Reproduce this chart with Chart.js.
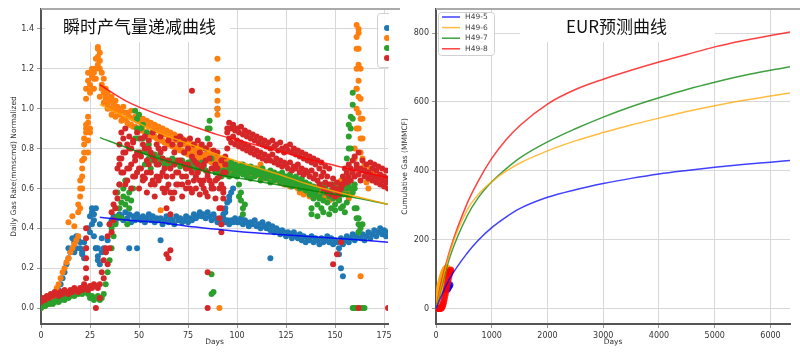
<!DOCTYPE html>
<html>
<head>
<meta charset="utf-8">
<script src="https://cdn.jsdelivr.net/npm/chart.js@4.4.0/dist/chart.umd.min.js"></script>
<style>
  body { margin: 0; background: #fff; }
  .panel { position: absolute; top: 0; width: 400px; height: 353px; }
  #left { left: 0; }
  #right { left: 400px; }
</style>
</head>
<body>
<div class="panel" id="left"><canvas id="rateChart" width="400" height="353"></canvas></div>
<div class="panel" id="right"><canvas id="eurChart" width="400" height="353"></canvas></div>
<script>
// wells and colours
const wellNames = ['H49-5', 'H49-6', 'H49-7', 'H49-8'];
const dotColors = ['#1f77b4', '#ff7f0e', '#2ca02c', '#d62728'];
const fitColors = ['rgba(0,0,255,0.85)', 'rgba(255,165,0,0.85)', 'rgba(0,128,0,0.8)', 'rgba(255,0,0,0.8)'];
const eurColors = ['rgba(0,0,255,0.75)', 'rgba(255,165,0,0.75)', 'rgba(0,128,0,0.75)', 'rgba(255,0,0,0.75)'];

// daily normalized rate, index = day
const blueRate = [0.01,0.02,0.01,0.02,0.02,0.03,0.03,0.04,
  0.06,0.09,0.12,0.15,0.18,0.22,0.25,
  0.28,0.3,0.33,0.36,0.34,0.3,0.27,0.25,
  0.3,0.4,0.46,0.48,0.44,0.3,0.26,0.42,
  0.35,0.3,0.28,0.34,0.42,0.44,0.46,0.43,0.45,0.47,
  0.46,0.44,0.48,0.45,0.47,0.43,0.46,0.44,0.47,0.45,0.44,0.46,0.43,0.45,0.47,0.44,0.46,0.43,0.45,0.44,
  0.45,0.42,0.44,0.46,0.43,0.45,0.44,0.42,0.46,0.44,0.45,0.43,0.44,0.46,0.43,0.45,0.44,0.47,0.45,0.46,
  0.48,0.46,0.47,0.45,0.48,0.46,0.44,0.47,0.45,0.43,
  0.44,0.42,0.45,0.43,0.44,0.42,0.44,0.43,0.45,0.43,
  0.43,0.45,0.42,0.44,0.43,0.41,0.43,0.42,0.44,0.41,0.42,0.4,0.43,0.41,0.4,0.42,0.39,0.41,0.38,0.4,
  0.39,0.37,0.39,0.38,0.36,0.38,0.37,0.35,0.38,0.36,
  0.35,0.37,0.34,0.36,0.33,0.35,0.34,0.36,0.33,0.35,0.34,0.32,0.35,0.33,0.34,0.36,0.33,0.35,0.32,0.34,
  0.33,0.3,0.35,0.32,0.34,0.36,0.33,0.35,0.37,0.34,0.36,0.38,0.35,0.37,0.34,0.36,0.38,0.35,0.37,0.39,
  0.36,0.38,0.4,0.37,0.39,0.36,0.38];
const orangeRate = [0.0,0.01,0.01,0.02,0.02,0.03,0.05,0.07,
  0.1,0.12,0.15,0.18,0.2,0.23,0.25,0.28,0.3,0.32,0.34,0.36,
  0.5,0.6,0.75,0.9,0.93,0.88,1.1,1.15,1.25,1.3,
  1.2,1.1,1.08,1.05,1.02,1.04,1.0,1.03,0.99,1.01,
  1.0,0.94,1.01,0.95,0.98,0.92,0.99,0.91,0.96,0.9,
  0.97,0.89,0.95,0.88,0.94,0.87,0.93,0.86,0.92,0.85,
  0.91,0.84,0.9,0.83,0.89,0.82,0.88,0.81,0.87,0.8,
  0.86,0.79,0.85,0.78,0.84,0.77,0.83,0.76,0.82,0.76,
  0.81,0.75,0.8,0.74,0.8,0.74,0.79,0.73,0.78,0.74,
  0.76,0.74,0.73,0.75,0.72,0.74,0.71,0.73,0.7,0.72,
  0.71,0.69,0.72,0.7,0.68,0.71,0.69,0.67,0.7,0.68,
  0.67,0.69,0.66,0.68,0.65,0.67,0.66,0.64,0.67,0.65,
  0.64,0.66,0.63,0.65,0.62,0.64,0.63,0.61,0.64,0.62,
  0.61,0.6,0.58,0.6,0.57,0.59,0.58,0.56,0.59,0.57,
  0.58,0.56,0.59,0.57,0.55,0.58,0.56,0.54,0.57,0.55,
  0.56,0.6,0.62,0.64,0.6,0.62,0.58,0.55,0.57,0.6,
  0.8,1.1,1.4,1.2,0.95,0.72,0.68,0.65,0.7,0.66,
  0.68,0.65,0.67];
// second orange reading per day, from day 33
const orangeRate2Start = 33;
const orangeRate2 = [1.06,1.0,1.05,0.97,1.02,0.96,1.0,
  0.97,0.99,0.95,0.98,0.93,0.96,0.92,0.95,0.91,0.94,
  0.9,0.93,0.89,0.92,0.88,0.91,0.87,0.9,0.86,0.89,
  0.85,0.88,0.84,0.87,0.83,0.86,0.82,0.85,0.81,0.84,
  0.8,0.83,0.79,0.82,0.78,0.81,0.78,0.8,0.77,0.79,
  0.76,0.78,0.75,0.77,0.75,0.77,0.74,0.76,0.73,0.76,
  0.72,0.75,0.71,0.74,0.7,0.73,0.69,0.72,0.68,0.71];
const greenRate = [0.0,0.01,0.01,0.02,0.02,0.03,0.02,0.03,0.04,0.03,
  0.04,0.05,0.04,0.06,0.05,0.06,0.07,0.06,0.08,0.07,
  0.08,0.07,0.09,0.08,0.07,0.05,0.06,0.04,0.05,0.06,
  0.04,0.05,0.07,0.12,0.18,0.24,0.3,0.36,0.42,0.46,
  0.5,0.53,0.56,0.52,0.55,0.58,0.54,0.6,0.85,0.95,
  0.97,0.9,0.85,0.8,0.78,0.75,0.76,0.74,0.77,0.75,
  0.76,0.73,0.75,0.72,0.74,0.71,0.73,0.75,0.72,0.74,
  0.73,0.71,0.74,0.72,0.7,0.73,0.71,0.74,0.72,0.7,
  0.72,0.7,0.73,0.71,0.69,0.85,0.9,0.75,0.7,0.68,
  0.7,0.68,0.66,0.69,0.67,0.68,0.66,0.7,0.67,0.69,
  0.66,0.68,0.7,0.67,0.69,0.66,0.68,0.65,0.68,0.66,
  0.67,0.69,0.64,0.66,0.68,0.65,0.67,0.63,0.66,0.64,
  0.65,0.67,0.63,0.66,0.64,0.62,0.65,0.63,0.61,0.64,
  0.62,0.64,0.6,0.63,0.61,0.59,0.62,0.57,0.6,0.55,
  0.58,0.52,0.56,0.5,0.54,0.58,0.53,0.56,0.5,0.55,
  0.52,0.58,0.55,0.5,0.57,0.48,0.53,0.6,0.8,0.95,
  0.6,0.5,0.45,0.4,0.42];
// second green reading per day, from day 95
const greenRate2Start = 95;
const greenRate2 = [0.72,0.7,0.73,0.71,0.72,0.7,0.71,0.69,0.72,0.7,
  0.7,0.68,0.71,0.69,0.7,0.68,0.69,0.67,0.7,0.68,
  0.68,0.66,0.69,0.67,0.68,0.66,0.67,0.65,0.68,0.66,
  0.66,0.64,0.67,0.65,0.63,0.66,0.64,0.62,0.65,0.6,
  0.63,0.6,0.62,0.58,0.61,0.57,0.6,0.55,0.62,0.58,
  0.6,0.62,0.57,0.59,0.62,0.56,0.6,0.54,0.58,0.62,
  0.6,0.57,0.62,0.6,0.58,0.62];
const redRate = [0.03,0.05,0.04,0.06,0.05,0.07,0.06,0.08,0.07,0.06,
  0.08,0.07,0.09,0.08,0.07,0.09,0.08,0.1,0.09,0.08,
  0.1,0.09,0.11,0.1,0.09,0.11,0.1,0.12,0.11,0.1,
  0.12,0.18,0.24,0.3,0.36,0.42,0.48,0.52,0.58,0.55,
  0.82,0.75,0.85,0.78,0.7,0.8,0.72,0.83,0.76,0.68,
  0.78,0.7,0.82,0.65,0.74,0.8,0.68,0.76,0.62,0.72,
  0.8,0.66,0.75,0.58,0.5,0.62,0.7,0.55,0.78,0.68,
  0.74,0.82,0.66,0.72,0.6,0.8,0.7,0.76,0.64,0.73,
  0.68,0.78,0.62,0.72,0.58,0.66,0.75,0.6,0.7,0.55,
  0.65,0.5,0.42,0.6,0.68,0.88,0.93,0.9,0.92,0.89,
  0.9,0.88,0.91,0.87,0.89,0.86,0.88,0.85,0.87,0.84,
  0.86,0.83,0.85,0.82,0.84,0.81,0.83,0.8,0.84,0.81,
  0.82,0.79,0.83,0.8,0.78,0.81,0.79,0.82,0.78,0.8,
  0.77,0.79,0.76,0.78,0.75,0.77,0.74,0.76,0.73,0.75,
  0.72,0.74,0.7,0.73,0.68,0.71,0.66,0.7,0.62,0.65,
  0.6,0.63,0.58,0.62,0.66,0.7,0.68,0.72,0.7,0.74,
  0.76,0.72,0.78,0.7,0.74,0.69,0.72,0.68,0.73,0.7,
  0.72,0.69,0.71,0.67,0.7,0.66,0.69,0.65];
// second and third red readings per day, from day 40
const redRate2Start = 40;
const redRate2 = [0.62,0.88,0.68,0.9,0.64,0.86,0.6,0.84,0.66,0.88,
  0.6,0.85,0.64,0.86,0.58,0.84,0.62,0.88,0.56,0.82,
  0.64,0.86,0.6,0.8,0.66,0.84,0.47,0.82,0.58,0.85,
  0.62,0.86,0.56,0.84,0.7,0.63,0.85,0.58,0.82,0.6,
  0.84,0.57,0.82,0.64,0.8,0.56,0.82,0.62,0.79,0.64,
  0.78,0.6,0.74,0.58,0.76,0.8,
  0.85,0.83,0.86,0.82,0.84,0.81,0.83,0.8,0.82,0.79,
  0.81,0.78,0.8,0.77,0.79,0.76,0.78,0.75,0.77,0.74,
  0.76,0.74,0.77,0.73,0.75,0.72,0.74,0.71,0.73,0.72,
  0.7,0.73,0.69,0.71,0.7,0.72,0.68,0.7,0.67,0.69,
  0.68,0.66,0.69,0.65,0.67,0.64,0.62,0.66,0.6,0.63,
  0.58,0.62,0.57,0.6,0.56,0.59,0.57,0.6,0.62,0.64,
  0.63,0.66,0.64,0.68,0.66,0.7,0.67,0.64,0.69,0.66,
  0.68,0.65,0.67,0.64,0.66,0.63,0.65,0.62,0.64,0.61,0.63,0.6];
const redRate3 = [0.72,0.68,0.78,0.62,0.82,0.7,0.8,0.66,0.74,0.78,
  0.7,0.76,0.66,0.8,0.68,0.72,0.78,0.64,0.74,0.66,
  0.72,0.78,0.68,0.7,0.6,0.74,0.58,0.66,0.72,0.62,
  0.68,0.74,0.62,0.78,0.66,0.72,0.6,0.68,0.74,0.66,
  0.72,0.64,0.7,0.6,0.74,0.68,0.64,0.7,0.6,0.72,
  0.7,0.66,0.62,0.68,0.72,0.9];

// extra readings [day, rate]: spikes, drops and stray points
const blueExtra = [[14,0.3],[16,0.35],[17,0.28],[18,0.3],[20,0.33],[21,0.28],[22,0.33],
  [25,0.38],[26,0.42],[26,0.5],[27,0.36],[27,0.47],[28,0.5],[28,0.3],[29,0.24],[30,0.22],[29,0.3],[31,0.28],
  [45,0.3],[49,0.3],[61,0.34],[90,1.0],[117,0.25],[152,0.27],[153,0.2],[154,0.16],
  [93,0.47],[94,0.5],[95,0.53],[96,0.56],[97,0.58],[98,0.6],[94,0.48],[96,0.54]];
const orangeExtra = [[14,0.43],[16,0.46],[17,0.41],
  [19,0.48],[19,0.52],[20,0.56],[20,0.6],[20,0.64],[21,0.66],[21,0.7],[21,0.74],[22,0.78],[22,0.82],
  [22,0.85],[23,0.88],[23,0.92],[24,0.84],[24,0.96],[25,0.9],
  [23,1.05],[23,1.1],[24,1.14],[24,1.18],[25,1.08],[25,1.12],[26,1.16],[26,1.2],[27,1.1],[27,1.18],
  [28,1.15],[28,1.2],[29,1.22],[29,1.26],[29,1.31],[30,1.28],[30,1.24],[31,1.18],[31,1.12],[32,1.15],[33,1.1],
  [30,1.06],[32,1.03],[34,1.08],[36,1.06],[38,1.04],
  [24,0.78],[61,0.49],[110,0.7],[112,0.72],
  [90,0.97],[90,1.0],[90,1.04],[90,1.09],[90,1.15],[90,1.25],[91,0.0],
  [153,0.62],[155,0.65],[163,0.16],[161,0.0],[163,0.0],
  [160,0.75],[161,0.9],[161,1.0],[161,1.1],[161,1.2],[161,1.3],[161,1.36],[161,1.42],
  [162,1.38],[162,1.3],[162,1.22],[162,1.14],[162,1.06],[162,0.98],[162,0.9],
  [163,1.05],[163,0.95],[163,0.85],[163,0.78],[164,0.85],[164,0.75],[165,0.7],[166,0.63],[167,0.6]];
const greenExtra = [[36,0.4],[38,0.5],[39,0.58],[40,0.62],[41,0.45],[42,0.6],[43,0.64],[44,0.42],[45,0.5],
  [48,0.99],[49,0.95],[49,0.9],[50,0.85],[51,0.78],[52,0.92],[53,0.72],[54,0.88],[55,0.82],[56,0.7],
  [84,0.8],[85,0.9],[86,0.94],[87,0.17],[87,0.07],[88,0.08],
  [101,0.62],[101,0.56],[102,0.58],[102,0.54],[103,0.5],[103,0.47],[104,0.52],
  [138,0.5],[138,0.47],[141,0.46],[144,0.48],[147,0.47],[150,0.49],[154,0.51],
  [156,0.75],[157,0.8],[157,0.86],[158,0.9],[158,0.96],[159,1.02],[159,1.08],[157,0.92],
  [160,0.5],[161,0.45],[162,0.38],[162,0.42],
  [159,0.0],[160,0.0],[162,0.0],[164,0.0],[165,0.0]];
const redExtra = [[23,0.15],[23,0.2],[23,0.25],[23,0.3],[23,0.35],[23,0.4],[22,0.12],
  [28,0.0],[30,0.05],[32,0.15],[33,0.28],[34,0.22],[35,0.3],[36,0.38],[37,0.44],[38,0.5],
  [39,0.7],[40,0.75],
  [64,0.27],[65,0.25],[66,0.29],[77,1.09],[85,0.18],[85,0.0],
  [91,0.45],[92,0.38],[92,0.5],[93,0.55],
  [149,0.22],[151,0.27],[153,0.33],[162,0.0],[177,0.0]];

// decline fits
const fitDays = [30, 45, 60, 75, 90, 105, 120, 135, 150, 165, 177];
const blueFit = [0.455, 0.44, 0.43, 0.41, 0.395, 0.38, 0.37, 0.36, 0.35, 0.34, 0.33];
const orangeFit = [1.02, 0.95, 0.88, 0.825, 0.77, 0.72, 0.675, 0.625, 0.585, 0.55, 0.52];
const greenFit = [0.855, 0.8, 0.75, 0.71, 0.67, 0.645, 0.62, 0.595, 0.57, 0.545, 0.52];
const redFit = [1.12, 1.03, 0.97, 0.92, 0.87, 0.83, 0.79, 0.75, 0.715, 0.68, 0.655];

// EUR forecast
const eurDays = [0, 100, 250, 555, 750, 1000, 1250, 1500, 2000, 2500, 3000, 3500, 4000, 4500, 5000, 5500, 6000, 6350];
const eurBlue = [0, 38, 88, 160, 197, 235, 265, 290, 323, 345, 363, 378, 391, 401, 410, 418, 425, 430];
const eurOrange = [0, 70, 165, 285, 330, 368, 398, 422, 458, 487, 511, 533, 553, 572, 589, 604, 617, 626];
const eurGreen = [0, 62, 150, 268, 320, 368, 405, 437, 484, 522, 556, 586, 612, 636, 657, 676, 692, 702];
const eurRed = [0, 80, 170, 304, 368, 436, 489, 531, 594, 636, 666, 692, 716, 738, 760, 778, 793, 803];
// produced-to-date cumulative [day, gas]
const histOrange = [[0,0],[3,6],[6,14],[10,22],[15,28],[20,32],[30,38],[40,44],[50,50],[60,58],[70,65],[80,72],[90,78],
  [100,84],[110,90],[120,95],[130,100],[140,104],[150,108],[160,111],[170,114],[180,116],[190,117],[200,118]];
const histRed = [[30,0],[45,0],[60,0],[75,0],[90,1],[100,3],[110,6],[120,10],[130,15],[140,22],[150,30],[160,38],
  [170,46],[180,54],[190,62],[200,70],[210,78],[220,86],[230,93],[240,100],[250,106],[260,110],[265,112]];
const histBlue = [[200,55],[210,58],[220,61],[230,64],[240,67],[250,69]];

const daily = (arr, start = 0) => arr.map((v, i) => ({ x: i + start, y: v }));
const pairs = arr => arr.map(p => ({ x: p[0], y: p[1] }));
const zip = (xs, ys) => xs.map((x, i) => ({ x: x, y: ys[i] }));

const tickFont = { family: 'DejaVu Sans', size: 8 };
const titleFont = { family: 'DejaVu Sans', size: 7.5 };

// title box, top frame line and in-plot legend
const panelDecor = {
  id: 'panelDecor',
  afterDraw(chart, args, o) {
    const ctx = chart.ctx;
    const a = chart.chartArea;
    ctx.save();
    ctx.fillStyle = '#fff';
    ctx.fillRect(o.box[0], a.top, o.box[1] - o.box[0], o.box[2] - a.top);
    ctx.fillStyle = '#111';
    ctx.font = '17px "Noto Sans CJK SC"';
    ctx.textBaseline = 'middle';
    ctx.fillText(o.title, o.titleX, o.titleY);

    const lg = o.legend;
    ctx.beginPath();
    ctx.rect(0, 0, lg.clip, chart.height);
    ctx.clip();
    ctx.fillStyle = 'rgba(255,255,255,0.9)';
    ctx.strokeStyle = '#d0d0d0';
    ctx.lineWidth = 1;
    ctx.beginPath();
    ctx.roundRect(lg.x + 0.5, lg.y + 0.5, lg.w, lg.h, 3);
    ctx.fill();
    ctx.stroke();
    wellNames.forEach((name, i) => {
      const y = lg.y + lg.first + i * lg.row;
      if (lg.kind === 'dot') {
        ctx.fillStyle = dotColors[i];
        ctx.beginPath();
        ctx.arc(lg.x + 10, y, 3, 0, Math.PI * 2);
        ctx.fill();
      } else {
        ctx.strokeStyle = eurColors[i];
        ctx.lineWidth = 1.5;
        ctx.beginPath();
        ctx.moveTo(lg.x + 4, y);
        ctx.lineTo(lg.x + 22, y);
        ctx.stroke();
        ctx.fillStyle = '#444';
        ctx.font = '7.5px "DejaVu Sans"';
        ctx.fillText(name, lg.x + 27, y);
      }
    });
    ctx.restore();

    ctx.save();
    ctx.strokeStyle = '#aaa';
    ctx.lineWidth = 2;
    ctx.beginPath();
    ctx.moveTo(a.left, a.top);
    ctx.lineTo(chart.width, a.top);
    ctx.stroke();
    ctx.restore();
  }
};

function axis(min, max, step, digits, label, fitWidth, fitHeight, titlePad) {
  return {
    type: 'linear', min: min, max: max,
    grid: { color: '#d8d8d8', lineWidth: 1, tickLength: 4, tickColor: '#999' },
    border: { color: '#555', width: 2 },
    ticks: {
      color: '#333', font: tickFont, padding: 3,
      callback: v => v.toFixed(digits)
    },
    afterBuildTicks: s => {
      const t = [];
      for (let v = Math.ceil(min / step) * step; v <= max + 1e-9; v += step) t.push({ value: +v.toFixed(6) });
      s.ticks = t;
    },
    title: { display: true, text: label, color: '#333', font: titleFont, padding: titlePad },
    afterFit: s => {
      if (fitWidth) s.width = fitWidth;
      if (fitHeight) s.height = fitHeight;
    }
  };
}

const dotSet = (data, i, order) => ({
  type: 'scatter', data: data, backgroundColor: dotColors[i], borderWidth: 0,
  pointRadius: 3, pointHoverRadius: 3, order: order
});
const fitSet = (vals, i) => ({
  type: 'line', data: zip(fitDays, vals), borderColor: fitColors[i], borderWidth: 1.5,
  pointRadius: 0, tension: 0.3, order: 0
});

new Chart(document.getElementById('rateChart'), {
  type: 'scatter',
  data: {
    datasets: [
      fitSet(redFit, 3), fitSet(orangeFit, 1), fitSet(greenFit, 2), fitSet(blueFit, 0),
      dotSet(daily(redRate).concat(daily(redRate2, redRate2Start), daily(redRate3, redRate2Start), pairs(redExtra)), 3, 1),
      dotSet(daily(greenRate).concat(daily(greenRate2, greenRate2Start), pairs(greenExtra)), 2, 2),
      dotSet(daily(orangeRate).concat(daily(orangeRate2, orangeRate2Start), pairs(orangeExtra)), 1, 3),
      dotSet(daily(blueRate).concat(pairs(blueExtra)), 0, 4)
    ]
  },
  options: {
    responsive: false,
    animation: false,
    layout: { padding: { left: 0, top: 9, right: 12, bottom: 0 } },
    plugins: {
      legend: { display: false },
      tooltip: { enabled: false },
      panelDecor: {
        box: [45, 230, 42], title: '瞬时产气量递减曲线', titleX: 63, titleY: 27,
        legend: { kind: 'dot', x: 377, y: 13, w: 40, h: 54, first: 15, row: 10, clip: 389 }
      }
    },
    scales: {
      x: axis(0, 177, 25, 0, 'Days', 0, 29, { top: 0, bottom: 6 }),
      y: axis(-0.08, 1.5, 0.2, 1, 'Daily Gas Rate(mmscmd) Normalized', 41, 0, { top: 10, bottom: 0 })
    }
  },
  plugins: [panelDecor]
});

const eurSet = (vals, i) => ({
  type: 'line', label: wellNames[i], data: zip(eurDays, vals), borderColor: eurColors[i],
  borderWidth: 1.5, pointRadius: 0, cubicInterpolationMode: 'monotone', order: 0
});
const histSet = (data, i) => ({
  type: 'scatter', data: pairs(data), backgroundColor: eurColors[i], borderWidth: 0,
  pointRadius: 3.5, order: 1
});

new Chart(document.getElementById('eurChart'), {
  type: 'scatter',
  data: {
    datasets: [
      eurSet(eurBlue, 0), eurSet(eurOrange, 1), eurSet(eurGreen, 2), eurSet(eurRed, 3),
      histSet(histRed, 3), histSet(histBlue, 0), histSet(histOrange, 1)
    ]
  },
  options: {
    responsive: false,
    animation: false,
    layout: { padding: { left: 0, top: 9, right: 10, bottom: 0 } },
    plugins: {
      legend: { display: false },
      tooltip: { enabled: false },
      panelDecor: {
        box: [120, 315, 42], title: 'EUR预测曲线', titleX: 166, titleY: 27,
        legend: { kind: 'line', x: 38, y: 12, w: 56, h: 43, first: 5, row: 10.6, clip: 400 }
      }
    },
    scales: {
      x: axis(0, 6350, 1000, 0, 'Days', 0, 29, { top: 0, bottom: 6 }),
      y: axis(-45, 870, 200, 0, 'Cumulative Gas (MMMCF)', 36, 0, { top: 1, bottom: 0 })
    }
  },
  plugins: [panelDecor]
});
</script>
</body>
</html>
